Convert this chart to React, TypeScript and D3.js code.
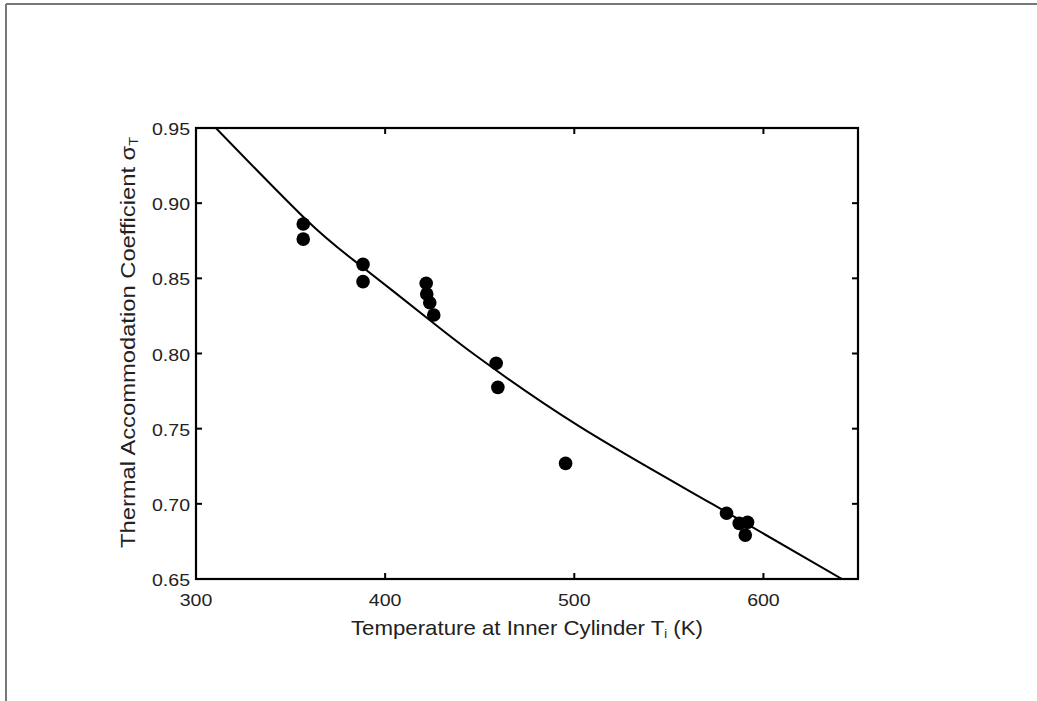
import React from "react";
import * as d3 from "d3";

const temps = [356.7, 356.7, 388.3, 388.3, 421.7, 422.0, 423.6, 425.7, 458.7, 459.6, 495.4, 580.5, 587.2, 591.6, 590.4];
const sigmas = [0.8861, 0.8761, 0.8593, 0.8478, 0.8467, 0.8396, 0.8338, 0.8256, 0.7935, 0.7775, 0.7269, 0.6937, 0.687, 0.6877, 0.6792];

const fitT = [310.5, 358.4, 386.6, 423.5, 449.9, 502.7, 573.1, 641.8];
const fitS = [0.95, 0.8888, 0.8589, 0.8223, 0.7968, 0.7515, 0.6998, 0.6498];

const xTicks = [300, 400, 500, 600];
const yTicks = [0.65, 0.7, 0.75, 0.8, 0.85, 0.9, 0.95];

const W = 1037, H = 701;
const L = 196, R = 858, T = 128, B = 579;

export default function App() {
  const x = d3.scaleLinear().domain([300, 650]).range([L, R]);
  const y = d3.scaleLinear().domain([0.65, 0.95]).range([B, T]);
  const line = d3.line<number>().x((d, i) => x(fitT[i])).y((d, i) => y(fitS[i])).curve(d3.curveNatural);
  const font = "'Liberation Sans', Arial, Helvetica, sans-serif";
  const tl = 6;
  const sx = 1.15;
  return (
    <svg width={W} height={H} style={{ position: "absolute", left: 0, top: 0, background: "#fff" }} fontFamily={font}>
      <line x1={6} y1={4} x2={W} y2={4} stroke="#777" strokeWidth={2} />
      <line x1={6} y1={4} x2={6} y2={H} stroke="#777" strokeWidth={2} />
      <defs>
        <clipPath id="clip"><rect x={L} y={T} width={R - L} height={B - T} /></clipPath>
      </defs>
      <path d={line(fitS) || ""} fill="none" stroke="#000" strokeWidth={2} clipPath="url(#clip)" />
      {temps.map((t, i) => (
        <circle key={i} cx={x(t)} cy={y(sigmas[i])} r={6.8} fill="#000" />
      ))}
      <rect x={L} y={T} width={R - L} height={B - T} fill="none" stroke="#000" strokeWidth={2.2} />
      {xTicks.map((v) => (
        <g key={"x" + v}>
          <line x1={x(v)} x2={x(v)} y1={B} y2={B - tl} stroke="#000" strokeWidth={2} />
          <line x1={x(v)} x2={x(v)} y1={T} y2={T + tl} stroke="#000" strokeWidth={2} />
          <text transform={`translate(${x(v)},${B + 27}) scale(${sx},1)`} textAnchor="middle" fontSize={17} fill="#222">{v}</text>
        </g>
      ))}
      {yTicks.map((v) => (
        <g key={"y" + v}>
          <line x1={L} x2={L + tl} y1={y(v)} y2={y(v)} stroke="#000" strokeWidth={2} />
          <line x1={R} x2={R - tl} y1={y(v)} y2={y(v)} stroke="#000" strokeWidth={2} />
          <text transform={`translate(${L - 6},${y(v) + 7}) scale(${sx},1)`} textAnchor="end" fontSize={17} fill="#222">{v.toFixed(2)}</text>
        </g>
      ))}
      <text x={351} y={635} fontSize={21} fill="#222" textLength={352} lengthAdjust="spacingAndGlyphs">
        Temperature at Inner Cylinder T<tspan fontSize={12} dy={3}>i</tspan><tspan dy={-3}> (K)</tspan>
      </text>
      <text transform={`translate(135,548) rotate(-90)`} fontSize={20} fill="#222" textLength={411} lengthAdjust="spacingAndGlyphs">
        Thermal Accommodation Coefficient σ<tspan fontSize={12} dy={3}>T</tspan>
      </text>
    </svg>
  );
}
